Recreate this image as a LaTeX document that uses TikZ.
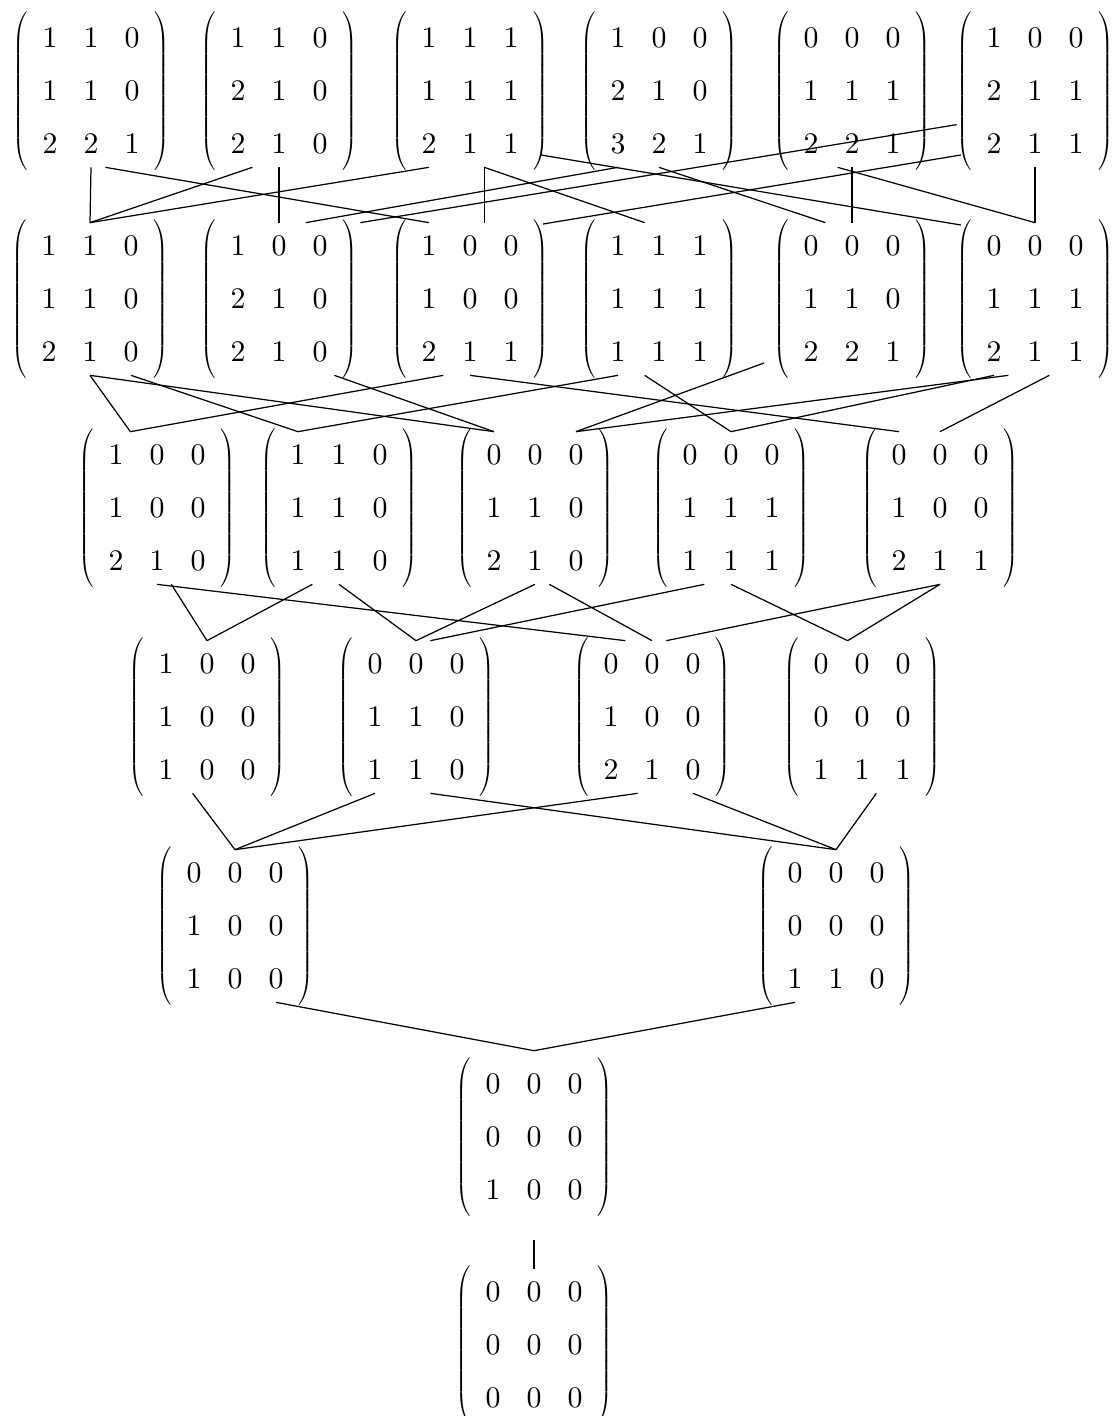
\documentclass[tikz,border=0pt]{standalone}
\usetikzlibrary{matrix, calc}
% digits from cmr10 scaled up, as in the printed figure
\DeclareFontFamily{OT1}{cmrten}{}
\DeclareFontShape{OT1}{cmrten}{m}{n}{<-> cmr10}{}
\DeclareSymbolFont{operators}{OT1}{cmrten}{m}{n}

\begin{document}
\begin{tikzpicture}[
  x=0.02cm, y=-0.02cm,
  every node/.style={font=\fontsize{17}{20}\selectfont},
  every delimiter/.style={font=\fontsize{22}{26}\selectfont},
  mat/.style={matrix of math nodes, left delimiter=(, right delimiter=),
    inner sep=3.5pt, column sep=0.26cm, row sep=0.14cm,
    nodes={minimum width=0.56cm, minimum height=0.92cm, inner sep=0pt}},
  link/.style={line width=0.7pt},
]
\useasboundingbox (0,0) rectangle (1116,1416);

% Top row
\matrix (a1) [mat] at (91,91)   {1 & 1 & 0\\ 1 & 1 & 0\\ 2 & 2 & 1\\};
\matrix (a2) [mat] at (279,91)  {1 & 1 & 0\\ 2 & 1 & 0\\ 2 & 1 & 0\\};
\matrix (a3) [mat] at (470,91)  {1 & 1 & 1\\ 1 & 1 & 1\\ 2 & 1 & 1\\};
\matrix (a4) [mat] at (659,91)  {1 & 0 & 0\\ 2 & 1 & 0\\ 3 & 2 & 1\\};
\matrix (a5) [mat] at (852,91)  {0 & 0 & 0\\ 1 & 1 & 1\\ 2 & 2 & 1\\};
\matrix (a6) [mat] at (1035,91) {1 & 0 & 0\\ 2 & 1 & 1\\ 2 & 1 & 1\\};

% Second row
\matrix (b1) [mat] at (90,299)   {1 & 1 & 0\\ 1 & 1 & 0\\ 2 & 1 & 0\\};
\matrix (b2) [mat] at (279,299)  {1 & 0 & 0\\ 2 & 1 & 0\\ 2 & 1 & 0\\};
\matrix (b3) [mat] at (470,299)  {1 & 0 & 0\\ 1 & 0 & 0\\ 2 & 1 & 1\\};
\matrix (b4) [mat] at (659,299)  {1 & 1 & 1\\ 1 & 1 & 1\\ 1 & 1 & 1\\};
\matrix (b5) [mat] at (852,299)  {0 & 0 & 0\\ 1 & 1 & 0\\ 2 & 2 & 1\\};
\matrix (b6) [mat] at (1035,299) {0 & 0 & 0\\ 1 & 1 & 1\\ 2 & 1 & 1\\};

% Third row
\matrix (c1) [mat] at (157,508) {1 & 0 & 0\\ 1 & 0 & 0\\ 2 & 1 & 0\\};
\matrix (c2) [mat] at (339,508) {1 & 1 & 0\\ 1 & 1 & 0\\ 1 & 1 & 0\\};
\matrix (c3) [mat] at (535,508) {0 & 0 & 0\\ 1 & 1 & 0\\ 2 & 1 & 0\\};
\matrix (c4) [mat] at (731,508) {0 & 0 & 0\\ 1 & 1 & 1\\ 1 & 1 & 1\\};
\matrix (c5) [mat] at (940,508) {0 & 0 & 0\\ 1 & 0 & 0\\ 2 & 1 & 1\\};

% Fourth row
\matrix (d1) [mat] at (207,717) {1 & 0 & 0\\ 1 & 0 & 0\\ 1 & 0 & 0\\};
\matrix (d2) [mat] at (416,717) {0 & 0 & 0\\ 1 & 1 & 0\\ 1 & 1 & 0\\};
\matrix (d3) [mat] at (652,717) {0 & 0 & 0\\ 1 & 0 & 0\\ 2 & 1 & 0\\};
\matrix (d4) [mat] at (862,717) {0 & 0 & 0\\ 0 & 0 & 0\\ 1 & 1 & 1\\};

% Fifth row
\matrix (e1) [mat] at (235,926) {0 & 0 & 0\\ 1 & 0 & 0\\ 1 & 0 & 0\\};
\matrix (e2) [mat] at (836,926) {0 & 0 & 0\\ 0 & 0 & 0\\ 1 & 1 & 0\\};

% Bottom
\matrix (f1) [mat] at (534,1137) {0 & 0 & 0\\ 0 & 0 & 0\\ 1 & 0 & 0\\};
\matrix (g1) [mat] at (534,1345) {0 & 0 & 0\\ 0 & 0 & 0\\ 0 & 0 & 0\\};

% Links, top row to second row
\draw[link] (a1-3-2.south) -- (b1-1-2.north);
\draw[link] (a2-3-1.south east) -- (b1-1-2.north);
\draw[link] (a3-3-1.south) -- (b1-1-2.north);
\draw[link] (a2-3-2.south) -- (b2-1-2.north);
\draw[link] (a1-3-2.south east) -- (b3-1-1.north);
\draw[link] (b2-1-3.north west) -- (a4-3-1.south);
\draw[link] ($(b2-1-3.north east)+(26,0)$) -- ($(a6-3-1.north west)+(-23,4)$);
\draw[link] (a3-3-2.south east) -- (b3-1-2.north east);
\draw[link] (a3-3-2.south east) -- (b4-1-2.north west);
\draw[link] ($(a3-3-3)+(30,11)$) -- ($(b6-1-1)+(-33,-21)$);
\draw[link] ($(b3-1-3)+(32,-22)$) -- ($(a6-3-1)+(-33,11)$);
\draw[link] (a4-3-2.south) -- (b5-1-1.north east);
\draw[link] (a5-3-2.south) -- (b5-1-2.north);
\draw[link] (a5-3-2.south west) -- (b6-1-2.north);
\draw[link] (a6-3-2.south) -- (b6-1-2.north);

% Links, second row to third row
\draw[link] (b1-3-2.south) -- (c3-1-1.north);
\draw[link] (b1-3-2.south) -- (c1-1-1.north east);
\draw[link] (b1-3-3.south) -- (c2-1-1.north);
\draw[link] (c1-1-1.north east) -- (b3-3-1.south east);
\draw[link] (b2-3-3.south east) -- (c3-1-1.north);
\draw[link] (c2-1-1.north) -- (b4-3-1.south);
\draw[link] (b3-3-2.south) -- (c5-1-1.north);
\draw[link] (b4-3-2.south west) -- (c4-1-2.north);
\draw[link] ($(b5-3-1)+(-47,11)$) -- (c3-1-3.north);
\draw[link] (c3-1-3.north) -- (b6-3-1.south east);
\draw[link] (c4-1-2.north) -- (b6-3-1.south);
\draw[link] (b6-3-2.south east) -- (c5-1-2.north);

% Links, third row to fourth row
\draw[link] (c1-3-2.south) -- (d3-1-1.north east);
\draw[link] (c1-3-2.south east) -- (d1-1-2.north);
\draw[link] (c2-3-1.south east) -- (d1-1-2.north);
\draw[link] (c2-3-2.south) -- (d2-1-2.north);
\draw[link] (c3-3-2.south) -- (d2-1-2.north);
\draw[link] (c3-3-2.south east) -- (d3-1-2.north);
\draw[link] (d2-1-2.north east) -- (c4-3-1.south east);
\draw[link] (d3-1-2.north east) -- (c5-3-2.south);
\draw[link] (c4-3-2.south) -- (d4-1-2.north west);
\draw[link] (c5-3-2.south) -- (d4-1-2.north west);

% Links, fourth row to fifth row
\draw[link] (d1-3-2.south west) -- (e1-1-2.north);
\draw[link] (d2-3-1.south) -- (e1-1-2.north);
\draw[link] (d3-3-2.south west) -- (e1-1-2.north);
\draw[link] (d2-3-2.south east) -- (e2-1-2.north);
\draw[link] (d3-3-3.south) -- (e2-1-2.north);
\draw[link] (d4-3-2.south east) -- (e2-1-2.north);

% Links to the bottom
\draw[link] (e1-3-3.south) -- ([yshift=0.2cm]f1-1-2.north);
\draw[link] (e2-3-1.south) -- ([yshift=0.2cm]f1-1-2.north);
\draw[link] ([yshift=-0.54cm]f1-3-2.south) -- (g1-1-2.north);

\end{tikzpicture}
\end{document}
